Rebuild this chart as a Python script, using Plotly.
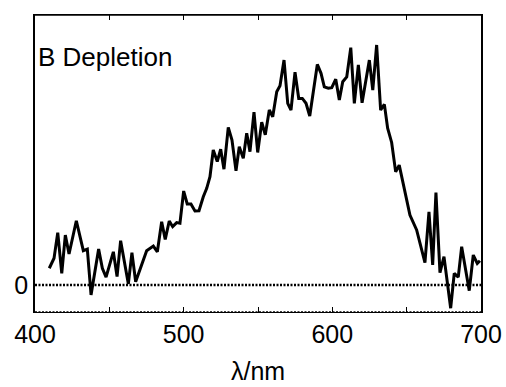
import plotly.graph_objects as go

wavelength = [409.6, 412.8, 415.3, 418.0, 420.4, 422.9, 427.8, 432.5, 435.2, 437.7,
              442.8, 445.3, 447.8, 452.7, 455.2, 457.6, 462.8, 465.2, 467.7, 475.1,
              479.6, 482.3, 485.2, 487.6, 490.3, 492.6, 495.3, 497.5, 500.0, 502.4,
              504.9, 507.6, 510.3, 513.2, 515.5, 517.7, 519.9, 522.6, 524.9, 527.1,
              530.0, 532.5, 535.2, 537.4, 540.1, 542.4, 544.6, 547.3, 549.8, 552.5,
              554.9, 557.6, 559.9, 562.6, 564.8, 567.5, 570.0, 572.2, 574.9, 577.4,
              579.8, 582.3, 584.8, 589.9, 592.4, 594.6, 597.3, 599.6, 602.3, 604.7,
              607.0, 609.7, 612.4, 614.8, 617.5, 620.0, 624.9, 627.2, 629.8, 632.5,
              635.0, 637.2, 639.9, 642.6, 645.0, 647.7, 652.2, 656.7, 659.4, 662.3,
              665.0, 667.5, 669.7, 672.4, 675.1, 679.6, 682.0, 684.7, 687.0, 692.1,
              694.8, 697.5, 699.3]
signal = [0.62, 0.99, 1.94, 0.43, 1.85, 1.15, 2.38, 1.27, 1.33, -0.37,
          1.33, 0.62, 0.29, 1.23, 0.31, 1.64, 0.04, 1.20, 0.12, 1.27,
          1.44, 1.23, 2.34, 1.69, 2.37, 2.16, 2.31, 2.29, 3.48, 3.00,
          3.00, 2.74, 2.75, 3.27, 3.58, 4.01, 5.00, 4.57, 5.03, 4.29,
          5.84, 5.37, 4.23, 5.12, 4.69, 5.62, 4.94, 6.40, 4.91, 6.03,
          5.56, 6.48, 6.23, 7.16, 7.38, 8.33, 6.73, 6.48, 7.88, 6.91,
          6.91, 6.73, 6.26, 8.17, 7.84, 7.34, 7.29, 7.31, 7.62, 6.85,
          7.53, 7.71, 8.79, 6.73, 8.15, 6.75, 8.33, 7.22, 8.89, 6.48,
          6.69, 5.81, 5.28, 4.19, 4.44, 3.77, 2.59, 2.04, 1.42, 0.83,
          2.71, 0.74, 3.42, 0.46, 1.05, -0.86, 0.43, 0.29, 1.42, -0.21,
          1.11, 0.80, 0.90]

x_ticks = [400, 450, 500, 550, 600, 650, 700]
x_labels = ["400", "", "500", "", "600", "", "700"]
y_ticks = [0]
y_labels = ["0"]
x_range = [400, 700]
y_range = [-1, 10]

FONT = "Liberation Sans, Arial, sans-serif"

fig = go.Figure()
fig.add_trace(go.Scatter(x=wavelength, y=signal, mode="lines",
                         line=dict(color="black", width=3), showlegend=False))

# zero reference line (dotted)
fig.add_shape(type="line", xref="x", yref="y", x0=x_range[0], x1=x_range[1], y0=0, y1=0,
              line=dict(color="black", width=2.5, dash="2px,1.5px"), layer="below")
# dotted bottom edge
fig.add_shape(type="line", xref="x", yref="y", x0=x_range[0], x1=x_range[1],
              y0=y_range[0], y1=y_range[0],
              line=dict(color="black", width=1.5, dash="2px,1.5px"))
# top border
fig.add_shape(type="line", xref="x", yref="paper", x0=x_range[0], x1=x_range[1], y0=1, y1=1,
              line=dict(color="black", width=1.5))

fig.add_annotation(text="B Depletion", xref="paper", yref="paper", x=0.003, y=0.86,
                   xanchor="left", yanchor="middle", showarrow=False,
                   font=dict(family=FONT, size=26, color="black"))
fig.add_annotation(text="λ/nm", xref="paper", yref="paper", x=0.5, y=-0.2,
                   xanchor="center", yanchor="middle", showarrow=False,
                   font=dict(family=FONT, size=25, color="black"))

fig.update_xaxes(range=x_range, tickvals=x_ticks, ticktext=x_labels,
                 ticks="inside", ticklen=5, tickwidth=1, tickcolor="black",
                 showline=True, linecolor="black", linewidth=1, mirror="ticks",
                 showgrid=False, zeroline=False, automargin=False,
                 tickfont=dict(family=FONT, size=25, color="black"))
fig.update_yaxes(range=y_range, tickvals=y_ticks, ticktext=y_labels, ticks="",
                 showline=True, linecolor="black", linewidth=1.5, mirror=True,
                 showgrid=False, zeroline=False, automargin=False,
                 tickfont=dict(family=FONT, size=25, color="black"))

fig.update_layout(width=506, height=387, margin=dict(l=35, r=25, t=15, b=75),
                  plot_bgcolor="white", paper_bgcolor="white")

fig.write_html("out.html")
